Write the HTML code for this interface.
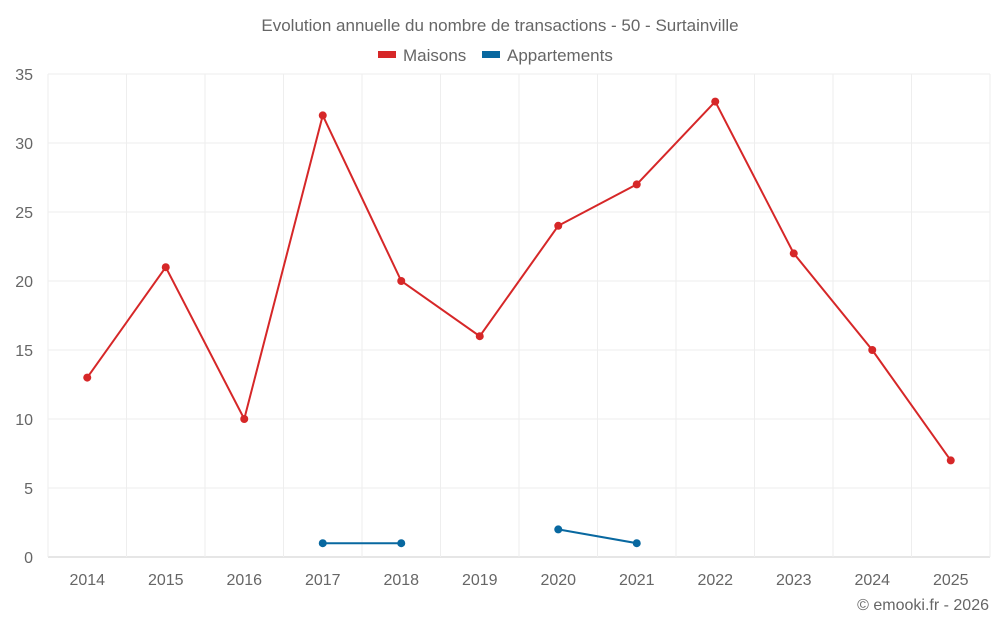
<!DOCTYPE html>
<html><head><meta charset="utf-8"><style>
body{margin:0;background:#fff;font-family:"Liberation Sans",sans-serif}
svg text{font-family:"Liberation Sans",sans-serif;fill:#666}
</style></head><body>
<svg id="c" width="1000" height="625" xmlns="http://www.w3.org/2000/svg">
<text x="500" y="31" text-anchor="middle" font-size="17">Evolution annuelle du nombre de transactions - 50 - Surtainville</text>
<g>
<g><rect x="378" y="51" width="18" height="7" fill="#d62728"/><text x="403" y="61" font-size="17">Maisons</text></g>
<g><rect x="482" y="51" width="18" height="7" fill="#0868a0"/><text x="507" y="61" font-size="17">Appartements</text></g>
</g>
<g id="grid"></g><g id="axes"></g><g id="series"></g>
<text x="989" y="610" text-anchor="end" font-size="16">© emooki.fr - 2026</text>
</svg>
<script>
const categories=["2014","2015","2016","2017","2018","2019","2020","2021","2022","2023","2024","2025"];
const maisons=[13,21,10,32,20,16,24,27,33,22,15,7];
const appartements=[null,null,null,1,1,null,2,1,null,null,null,null];
const yTicks=[0,5,10,15,20,25,30,35];
const NS="http://www.w3.org/2000/svg";
const L=48,R=990,T=74,B=557,yMax=35;
const bw=(R-L)/categories.length;
const x=i=>L+bw*(i+0.5);
const y=v=>B-(v/yMax)*(B-T);
function mk(tag,attrs,parent){const e=document.createElementNS(NS,tag);for(const k in attrs)e.setAttribute(k,attrs[k]);document.getElementById(parent).appendChild(e);return e;}
yTicks.forEach(t=>{
 const g=mk('line',{x1:L,x2:R,y1:y(t),y2:y(t),stroke:t===0?'#ccc':'#eee','stroke-width':1},'grid');
 
 
 const tx=mk('text',{x:33,y:y(t)+6,'text-anchor':'end','font-size':16},'axes');tx.textContent=t;
 
 
});
for(let i=0;i<=categories.length;i++){
 const g=mk('line',{x1:L+bw*i,x2:L+bw*i,y1:T,y2:B,stroke:'#eee','stroke-width':1},'grid');
 
 
}
categories.forEach((c,i)=>{
 const tx=mk('text',{x:x(i),y:585,'text-anchor':'middle','font-size':16},'axes');tx.textContent=c;
 
 
});
function series(data,color,name){
 let seg=[];const segs=[];
 data.forEach((v,i)=>{if(v==null){if(seg.length)segs.push(seg);seg=[];}else seg.push([x(i),y(v)]);});
 if(seg.length)segs.push(seg);
 segs.forEach(s=>{
  const p=mk('polyline',{points:s.map(q=>q.join(',')).join(' '),fill:'none',stroke:color,'stroke-width':2},'series');
  
  
 });
 data.forEach((v,i)=>{if(v==null)return;
  const c=mk('circle',{cx:x(i),cy:y(v),r:4,fill:color},'series');
  
  
 });
}
series(maisons,'#d62728','maisons');
series(appartements,'#0868a0','appartements');
</script>
</body></html>
